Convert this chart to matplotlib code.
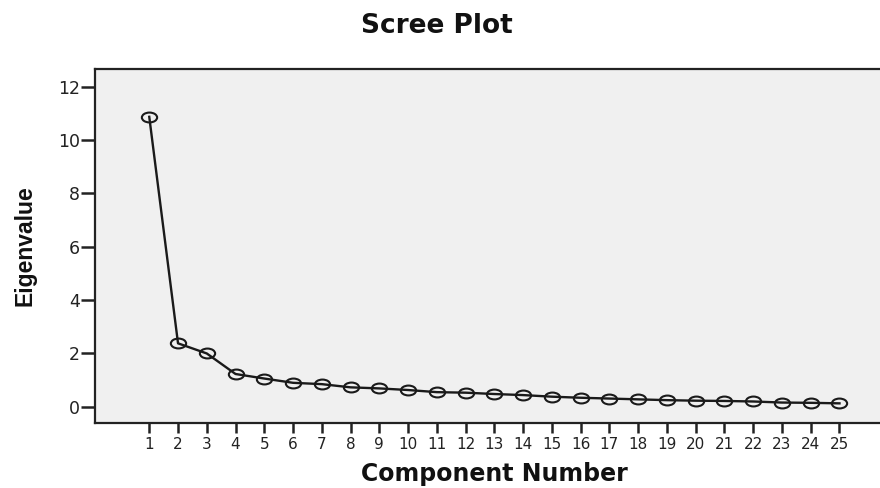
import matplotlib
matplotlib.use("Agg")
import matplotlib.pyplot as plt
from matplotlib.path import Path
from matplotlib.transforms import Affine2D

components = list(range(1, 26))
eigenvalues = [10.87, 2.38, 2.0, 1.23, 1.06, 0.9, 0.85, 0.73, 0.69, 0.63,
               0.55, 0.53, 0.48, 0.44, 0.38, 0.34, 0.31, 0.28, 0.25, 0.23,
               0.22, 0.2, 0.16, 0.15, 0.13]
y_ticks = [0, 2, 4, 6, 8, 10, 12]

plt.rcParams['font.family'] = ['DejaVu Sans']

fig = plt.figure(figsize=(8.8, 4.88), dpi=100)
ax = fig.add_axes([0.108, 0.133, 0.895, 0.7266])
ax.set_facecolor('#f0f0f0')

ellipse = Path.unit_circle().transformed(Affine2D().scale(1.55, 1.0))

ax.plot(components, eigenvalues, color='#1a1a1a', linewidth=1.7,
        marker=ellipse, markersize=11, markerfacecolor='none',
        markeredgecolor='#1a1a1a', markeredgewidth=1.5)

ax.set_xlim(-0.885, 26.5)
ax.set_ylim(-0.61, 12.68)
ax.set_xticks(components)
ax.set_xticklabels([str(c) for c in components])
ax.set_yticks(y_ticks)
ax.tick_params(axis='both', direction='out', width=1.8, colors='#222222')
ax.tick_params(axis='x', length=7, pad=3, labelsize=11)
ax.tick_params(axis='y', length=10, pad=1, labelsize=12.5)

for side in ['left', 'bottom', 'top']:
    ax.spines[side].set_linewidth(1.6)
    ax.spines[side].set_color('#222222')
ax.spines['right'].set_visible(False)

fig.text(0.496, 1 - 26 / 488, 'Scree Plot', ha='center', va='center',
         fontsize=19, fontweight='bold', color='#111111')
fig.text(0.562, 1 - 474 / 488, 'Component Number', ha='center',
         va='center', fontsize=17, fontweight='bold', color='#111111')
fig.text(25 / 880, 1 - 246 / 488, 'Eigenvalue', rotation=90, ha='center',
         va='center', fontsize=16.5, fontweight='bold', color='#111111',
         family=['Liberation Sans', 'DejaVu Sans'])

fig.savefig('out.png', dpi=100, facecolor='white')
